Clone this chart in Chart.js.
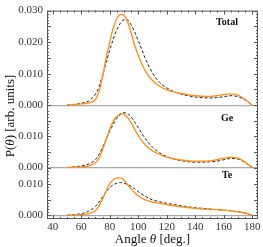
<!DOCTYPE html>
<html>
<head>
<meta charset="utf-8">
<script src="https://cdn.jsdelivr.net/npm/chart.js@4"></script>
<style>
  html, body { margin: 0; padding: 0; background: #fff; }
  #wrap { width: 263px; height: 247px; }
</style>
</head>
<body>
<div id="wrap"><canvas id="chart"></canvas></div>
<script>
// angles (deg) shared by every curve
const angles = [50, 55, 60, 65, 70, 72.5, 75, 77.5, 80, 82.5, 85, 87.5, 90, 92.5, 95, 97.5, 100,
  105, 110, 115, 120, 125, 130, 140, 150, 155, 160, 165, 170, 175, 180];

const panels = ["Total", "Ge", "Te"];

// solid orange curves
const totalSolid = [0, 0.0002, 0.0004, 0.0007, 0.0018, 0.0045, 0.009, 0.015, 0.020, 0.0245, 0.0275, 0.0288, 0.0285, 0.0265, 0.023, 0.019, 0.0158,
  0.0108, 0.0078, 0.006, 0.0049, 0.0042, 0.0037, 0.003, 0.0028, 0.003, 0.0034, 0.0036, 0.0032, 0.0018, 0];
const geSolid = [0, 0.0001, 0.0002, 0.0005, 0.0015, 0.003, 0.0058, 0.009, 0.0122, 0.0148, 0.0164, 0.0172, 0.017, 0.016, 0.0143, 0.0122, 0.0102,
  0.0072, 0.0053, 0.0042, 0.0033, 0.0028, 0.0024, 0.002, 0.0021, 0.0025, 0.003, 0.0033, 0.003, 0.0017, 0];
const teSolid = [0, 0.0001, 0.0002, 0.0005, 0.0015, 0.003, 0.0052, 0.0078, 0.01, 0.0113, 0.0119, 0.0119, 0.0112, 0.0098, 0.0084, 0.0072, 0.0062,
  0.0049, 0.0042, 0.0038, 0.0034, 0.003, 0.0027, 0.0022, 0.0019, 0.0018, 0.0016, 0.0014, 0.0011, 0.0007, 0];

// dashed black curves
const totalDashed = [0, 0.0002, 0.0006, 0.0013, 0.0035, 0.0058, 0.0095, 0.0135, 0.0175, 0.021, 0.024, 0.026, 0.0271, 0.027, 0.0255, 0.0232, 0.0205,
  0.0148, 0.0102, 0.0072, 0.0055, 0.0043, 0.0035, 0.0026, 0.0023, 0.0024, 0.0027, 0.003, 0.0027, 0.0016, 0];
const geDashed = [0, 0.0002, 0.0005, 0.0011, 0.0025, 0.0042, 0.0065, 0.009, 0.0115, 0.0138, 0.0157, 0.0169, 0.0175, 0.0172, 0.0162, 0.0145, 0.0127,
  0.0092, 0.0065, 0.0047, 0.0035, 0.0027, 0.0022, 0.0017, 0.0018, 0.002, 0.0025, 0.0029, 0.0027, 0.0015, 0];
const teDashed = [0, 0.0002, 0.0005, 0.0012, 0.0028, 0.0042, 0.0058, 0.0074, 0.0088, 0.0097, 0.0102, 0.0104, 0.0102, 0.0098, 0.0092, 0.0084, 0.0075,
  0.006, 0.0049, 0.0043, 0.0038, 0.0034, 0.003, 0.0024, 0.002, 0.0018, 0.0016, 0.0014, 0.0011, 0.0006, 0];

const ORANGE = "rgb(247,148,36)";
const SERIF = '"Liberation Serif", "DejaVu Serif", serif';

function pts(vals) {
  return angles.map((a, i) => ({ x: a, y: vals[i] }));
}

function solid(vals, axis) {
  return { data: pts(vals), yAxisID: axis, borderColor: ORANGE, borderWidth: 1.4,
    pointRadius: 0, cubicInterpolationMode: "monotone", fill: false };
}
function dashed(vals, axis) {
  return { data: pts(vals), yAxisID: axis, borderColor: "#222", borderWidth: 1,
    borderDash: [3, 2], pointRadius: 0, cubicInterpolationMode: "monotone", fill: false };
}

function yAxis(max, weight) {
  return {
    type: "linear", position: "left", stack: "panels", stackWeight: weight,
    min: -0.0012, max: max, offset: false,
    border: { display: false },
    grid: { drawTicks: false, tickLength: 0,
      color: c => (c.tick && c.tick.value === 0 ? "#aaa" : "transparent"), lineWidth: 1.3 },
    ticks: { stepSize: 0.005, includeBounds: false, padding: 4, color: "#333",
      font: { family: SERIF, size: 11 }, callback: v => Number(v).toFixed(3) },
    afterFit: s => { s.width = 47; }
  };
}

// inward frame ticks, panel names and the axis titles
const framePlugin = {
  id: "frame",
  afterDraw(chart) {
    const ctx = chart.ctx, a = chart.chartArea;
    ctx.save();
    ctx.strokeStyle = "#555";
    ctx.lineWidth = 1;
    ctx.strokeRect(a.left + 0.5, a.top + 0.5, a.right - a.left - 1, a.bottom - a.top - 1);

    const xs = chart.scales.x;
    ctx.beginPath();
    for (let v = 40; v <= 180; v += 5) {
      const px = Math.round(xs.getPixelForValue(v)) + 0.5;
      const len = v % 20 === 0 ? 4 : 2;
      ctx.moveTo(px, a.bottom); ctx.lineTo(px, a.bottom - len);
      ctx.moveTo(px, a.top); ctx.lineTo(px, a.top + len);
    }
    ["yTotal", "yGe", "yTe"].forEach(id => {
      const s = chart.scales[id];
      for (let k = 0; k * 0.001 <= s.max + 1e-9; k++) {
        const py = Math.round(s.getPixelForValue(k * 0.001)) + 0.5;
        const len = k % 5 === 0 ? 4 : 2;
        ctx.moveTo(a.left, py); ctx.lineTo(a.left + len, py);
        ctx.moveTo(a.right, py); ctx.lineTo(a.right - len, py);
      }
    });
    ctx.stroke();

    ctx.fillStyle = "#111";
    ctx.textAlign = "center";
    ctx.textBaseline = "middle";
    ctx.font = "bold 10px " + SERIF;
    const labelPos = [22, 118, 175];
    panels.forEach((p, i) => ctx.fillText(p, 227, labelPos[i]));

    function mixed(parts, cx, cy) {
      let w = 0;
      parts.forEach(p => { ctx.font = p[1] + " 13px " + SERIF; w += ctx.measureText(p[0]).width; });
      let x = cx - w / 2;
      ctx.textAlign = "left";
      parts.forEach(p => {
        ctx.font = p[1] + " 13px " + SERIF;
        ctx.fillText(p[0], x, cy);
        x += ctx.measureText(p[0]).width;
      });
    }
    mixed([["Angle ", "normal"], ["θ", "italic"], [" [deg.]", "normal"]], (a.left + a.right) / 2, 240);
    ctx.translate(11, 116);
    ctx.rotate(-Math.PI / 2);
    mixed([["P(", "normal"], ["θ", "italic"], [") [arb. units]", "normal"]], 0, 0);
    ctx.restore();
  }
};

new Chart(document.getElementById("chart"), {
  type: "line",
  data: {
    datasets: [
      solid(totalSolid, "yTotal"), dashed(totalDashed, "yTotal"),
      solid(geSolid, "yGe"), dashed(geDashed, "yGe"),
      solid(teSolid, "yTe"), dashed(teDashed, "yTe")
    ]
  },
  options: {
    responsive: true,
    maintainAspectRatio: false,
    animation: false,
    layout: { padding: { top: 5, right: 5, left: 0, bottom: 0 } },
    plugins: { legend: { display: false }, tooltip: { enabled: false } },
    scales: {
      x: {
        type: "linear", min: 36, max: 184,
        border: { display: false },
        grid: { display: false, drawTicks: false },
        ticks: { stepSize: 20, includeBounds: false, padding: 2, color: "#333", maxRotation: 0,
          font: { family: SERIF, size: 11 }, callback: v => (v % 20 === 0 ? v : "") },
        afterFit: s => { s.height = 28; }
      },
      // stacked panels are laid out bottom-up in key order
      yTe: yAxis(0.014, 49),
      yGe: yAxis(0.0187, 64),
      yTotal: yAxis(0.030, 101)
    }
  },
  plugins: [framePlugin]
});
</script>
</body>
</html>
